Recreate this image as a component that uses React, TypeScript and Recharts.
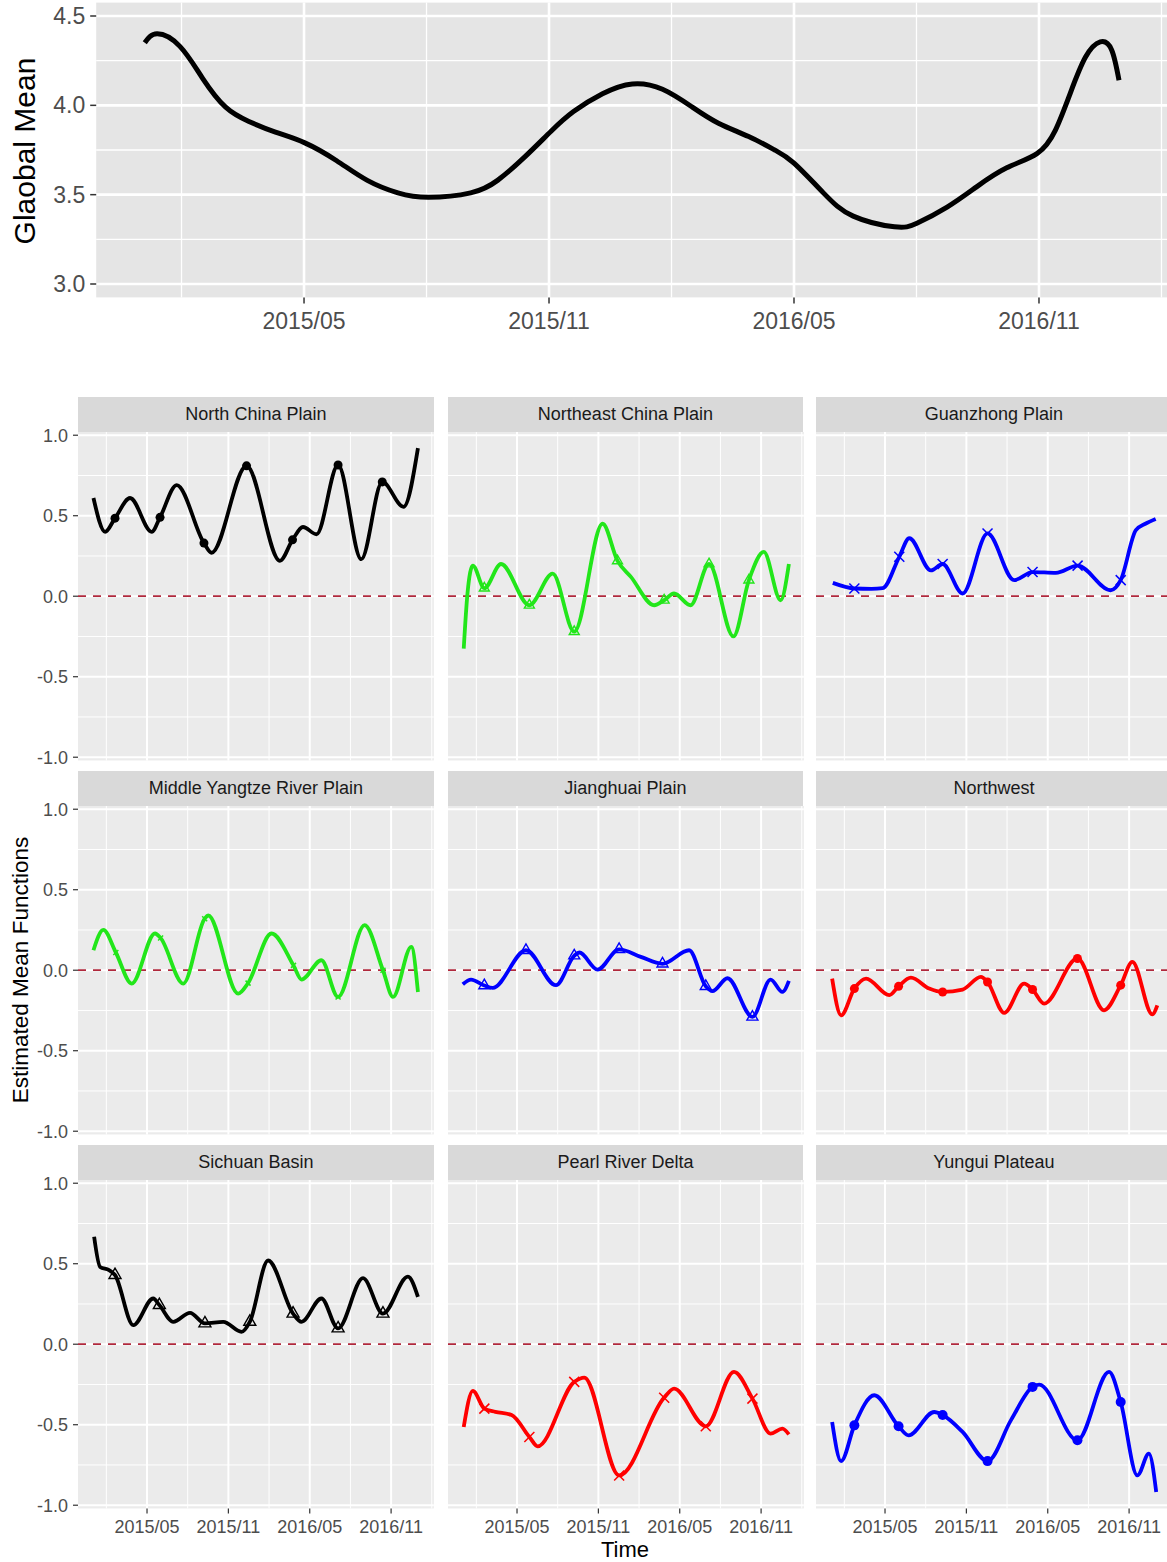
import React from 'react';
import { ComposedChart, Line, Scatter, XAxis, YAxis, CartesianGrid, ReferenceLine } from 'recharts';

const FONT = '"Liberation Sans", Arial, Helvetica, sans-serif';

// time axis: months since 2015-01-01
const monthTicks = [4, 10, 16, 22];
const monthTickLabels = ['2015/05', '2015/11', '2016/05', '2016/11'];
const monthMinor = [1, 7, 13, 19, 25];
const timeDomain: [number, number] = [-1.09, 25.15];

const globalTicks = [3.0, 3.5, 4.0, 4.5];
const globalMinor = [3.25, 3.75, 4.25];
const globalDomain: [number, number] = [2.925, 4.575];

const facetTicks = [-1, -0.5, 0, 0.5, 1];
const facetMinor = [-0.75, -0.25, 0.25, 0.75];
const facetDomain: [number, number] = [-1.02, 1.02];

// [month, value]
const globalMean = [
  [0.1, 4.35], [0.4, 4.4], [0.96, 4.33], [1.52, 4.15], [2.08, 3.99], [2.65, 3.91], [3.3, 3.85],
  [4.02, 3.79], [4.8, 3.69], [5.55, 3.58], [6.3, 3.51], [7.05, 3.485], [8.08, 3.51], [8.74, 3.58],
  [9.4, 3.71], [10.05, 3.855], [10.6, 3.965], [11.31, 4.065], [12.04, 4.12], [12.78, 4.09], [13.51, 3.99],
  [14.15, 3.9], [14.89, 3.825], [15.53, 3.75], [16.0, 3.676], [16.72, 3.51], [17.45, 3.38], [18.46, 3.32],
  [19.01, 3.34], [19.75, 3.43], [20.48, 3.545], [21.21, 3.65], [21.95, 3.73], [22.4, 3.86], [22.77, 4.07],
  [23.14, 4.27], [23.5, 4.355], [23.78, 4.31], [23.96, 4.14],
];

const northChinaPlain = [
  [0.05, 0.61], [0.91, 0.4], [2.75, 0.61], [4.35, 0.4], [6.19, 0.69], [8.76, 0.27], [11.34, 0.81],
  [13.8, 0.22], [15.5, 0.43], [16.5, 0.385], [18.09, 0.815], [19.8, 0.23], [22.92, 0.555], [23.98, 0.92],
];
const northChinaPlainMarks = [[1.64, 0.485], [4.96, 0.49], [8.2, 0.33], [11.34, 0.81], [14.73, 0.35], [18.09, 0.815], [21.35, 0.71]];

const northeastChinaPlain = [
  [0.07, -0.325], [0.35, 0.02], [0.74, 0.19], [2.82, 0.2], [4.91, -0.056], [6.63, 0.14], [8.22, -0.22],
  [10.31, 0.45], [12.4, 0.12], [14.11, -0.056], [15.58, 0.017], [16.8, -0.056], [19.96, -0.25],
  [22.2, 0.275], [23.44, -0.025], [24.05, 0.2],
];
const northeastChinaPlainMarks = [[1.59, 0.05], [4.91, -0.056], [8.22, -0.22], [11.41, 0.22], [14.85, -0.025], [18.16, 0.2], [21.1, 0.1]];

const guanzhongPlain = [
  [0.15, 0.083], [3.0, 0.045], [3.83, 0.05], [5.79, 0.36], [7.39, 0.16], [9.72, 0.017], [13.52, 0.1],
  [16.6, 0.145], [20.64, 0.037], [22.5, 0.41], [23.2, 0.45], [23.96, 0.48],
];
const guanzhongPlainMarks = [[1.74, 0.048], [5.05, 0.245], [8.25, 0.2], [11.56, 0.39], [14.88, 0.15], [18.2, 0.19], [21.38, 0.1]];

const middleYangtze = [
  [0.05, 0.124], [0.78, 0.25], [2.87, -0.083], [4.59, 0.228], [6.67, -0.083], [8.51, 0.34], [10.72, -0.145],
  [13.18, 0.228], [15.39, -0.058], [16.86, 0.062], [18.09, -0.166], [20.05, 0.28], [22.14, -0.166],
  [23.49, 0.145], [23.98, -0.135],
];
const middleYangtzeMarks = [[1.7, 0.11], [5.0, 0.2], [8.25, 0.32], [11.45, -0.08], [14.8, 0.03], [18.09, -0.166], [21.4, 0.0]];

const jianghuaiPlain = [
  [0.0, -0.087], [0.61, -0.058], [2.2, -0.11], [4.66, 0.124], [6.87, -0.093], [8.6, 0.11], [9.94, 0.004],
  [11.53, 0.13], [13.13, 0.083], [16.69, 0.124], [18.41, -0.13], [19.52, -0.05], [22.7, -0.058],
  [23.57, -0.135], [24.05, -0.066],
];
const jianghuaiPlainMarks = [[1.59, -0.095], [4.66, 0.124], [8.22, 0.09], [11.53, 0.13], [14.73, 0.04], [17.92, -0.1], [21.36, -0.29]];

const northwest = [
  [0.1, -0.052], [0.76, -0.28], [2.6, -0.052], [4.32, -0.155], [5.91, -0.046], [7.26, -0.114], [9.72, -0.12],
  [11.07, -0.041], [12.79, -0.265], [14.26, -0.083], [15.73, -0.207], [20.15, -0.249], [22.24, 0.052],
  [23.71, -0.274], [24.08, -0.218],
];
const northwestMarks = [[1.74, -0.114], [5.0, -0.1], [8.25, -0.135], [11.56, -0.073], [14.88, -0.12], [18.19, 0.073], [21.38, -0.093]];

const sichuanBasin = [
  [0.1, 0.667], [0.54, 0.48], [1.2, 0.46], [2.99, 0.118], [4.46, 0.284], [5.94, 0.139], [7.17, 0.195],
  [9.62, 0.139], [10.97, 0.077], [12.93, 0.52], [15.39, 0.139], [16.86, 0.284], [19.93, 0.41],
  [23.24, 0.42], [23.98, 0.294],
];
const sichuanBasinMarks = [[1.64, 0.43], [4.91, 0.243], [8.27, 0.129], [11.58, 0.139], [14.77, 0.19], [18.09, 0.098], [21.4, 0.19]];

const pearlRiverDelta = [
  [0.07, -0.514], [0.74, -0.29], [2.4, -0.42], [3.6, -0.44], [5.52, -0.634], [8.96, -0.207], [15.58, -0.276],
  [20.0, -0.172], [22.7, -0.555], [23.57, -0.524], [24.05, -0.56],
];
const pearlRiverDeltaMarks = [[1.59, -0.4], [4.91, -0.576], [8.22, -0.234], [11.53, -0.815], [14.85, -0.332], [17.92, -0.51], [21.36, -0.338]];

const yunguiPlateau = [
  [0.1, -0.483], [0.76, -0.726], [3.21, -0.317], [5.74, -0.566], [7.63, -0.421], [9.72, -0.545],
  [13.28, -0.473], [15.37, -0.251], [20.52, -0.172], [22.61, -0.815], [23.46, -0.68], [24.0, -0.918],
];
const yunguiPlateauMarks = [[1.74, -0.504], [5.0, -0.51], [8.25, -0.44], [11.56, -0.726], [14.88, -0.265], [18.19, -0.597], [21.38, -0.359]];

const panelTitles = [
  'North China Plain', 'Northeast China Plain', 'Guanzhong Plain',
  'Middle Yangtze River Plain', 'Jianghuai Plain', 'Northwest',
  'Sichuan Basin', 'Pearl River Delta', 'Yungui Plateau',
];
const panelCurves = [
  northChinaPlain, northeastChinaPlain, guanzhongPlain,
  middleYangtze, jianghuaiPlain, northwest,
  sichuanBasin, pearlRiverDelta, yunguiPlateau,
];
const panelMarks = [
  northChinaPlainMarks, northeastChinaPlainMarks, guanzhongPlainMarks,
  middleYangtzeMarks, jianghuaiPlainMarks, northwestMarks,
  sichuanBasinMarks, pearlRiverDeltaMarks, yunguiPlateauMarks,
];

// styles
const GREEN = '#22E61A';
const panelColors = ['#000000', GREEN, '#0000FF', GREEN, '#0000FF', '#FF0000', '#000000', '#FF0000', '#0000FF'];
const panelShapes = ['circle', 'triangle', 'x', 'x', 'triangle', 'circle', 'triangle', 'x', 'circle'];
const panelMarkSize = [9, 10, 10, 5, 11, 9, 12, 10, 10];

// layout
const TOP_PLOT = { left: 96.2, right: 1167.6, top: 2.6, bottom: 297.4 };
const COL_LEFT = [78, 447.5, 816];
const ROW_ZERO = [596, 970, 1344];
const PX_PER_MONTH = 13.56;
const PX_PER_UNIT = 161;
const PW = PX_PER_MONTH * (timeDomain[1] - timeDomain[0]);
const PH = PX_PER_UNIT * (facetDomain[1] - facetDomain[0]);
const STRIP_H = 34.5;
const PAD = 12;

const toRows = (pts: number[][]) => pts.map((p) => ({ t: p[0], v: p[1] }));
const mergeRows = (curve: number[][], marks: number[][]) => {
  const all = [...curve, ...marks].slice().sort((a, b) => a[0] - b[0]);
  const out: { t: number; v: number }[] = [];
  for (const p of all) {
    if (out.length && Math.abs(out[out.length - 1].t - p[0]) < 1e-9) continue;
    out.push({ t: p[0], v: p[1] });
  }
  return out;
};

const hGen = (vals: number[], dom: [number, number]) => (p: any) => {
  const s = p?.yAxis?.scale;
  if (typeof s === 'function') return vals.map((v) => s(v));
  const o = p.offset;
  return vals.map((v) => o.top + ((dom[1] - v) / (dom[1] - dom[0])) * o.height);
};
const vGen = (vals: number[], dom: [number, number]) => (p: any) => {
  const s = p?.xAxis?.scale;
  if (typeof s === 'function') return vals.map((v) => s(v));
  const o = p.offset;
  return vals.map((v) => o.left + ((v - dom[0]) / (dom[1] - dom[0])) * o.width);
};

const fmtMonth = (v: number) => {
  const i = monthTicks.indexOf(v);
  return i >= 0 ? monthTickLabels[i] : '';
};

const makeShape = (kind: string, color: string, size: number) => (props: any) => {
  const { cx, cy } = props;
  if (cx == null || cy == null || isNaN(cx) || isNaN(cy)) return <g />;
  if (kind === 'circle') return <circle cx={cx} cy={cy} r={size / 2} fill={color} />;
  if (kind === 'triangle') {
    const s = size;
    const h = (s * Math.sqrt(3)) / 2;
    const pts = `${cx},${cy - (2 * h) / 3} ${cx - s / 2},${cy + h / 3} ${cx + s / 2},${cy + h / 3}`;
    return <polygon points={pts} fill="none" stroke={color} strokeWidth={1.4} />;
  }
  const r = size / 2;
  return (
    <g stroke={color} strokeWidth={1.5}>
      <line x1={cx - r} y1={cy - r} x2={cx + r} y2={cy + r} />
      <line x1={cx - r} y1={cy + r} x2={cx + r} y2={cy - r} />
    </g>
  );
};

function TopChart() {
  const width = 1200;
  const xH = 45;
  const height = TOP_PLOT.bottom + xH + 2.6;
  return (
    <div style={{ position: 'absolute', left: 0, top: 0 }}>
      <ComposedChart
        width={width}
        height={height}
        margin={{ top: TOP_PLOT.top, right: width - TOP_PLOT.right, bottom: 2.6, left: 0 }}
      >
        <CartesianGrid
          fill="#E5E5E5"
          fillOpacity={1}
          stroke="#FFFFFF"
          strokeWidth={1.3}
          horizontalCoordinatesGenerator={hGen(globalMinor, globalDomain)}
          verticalCoordinatesGenerator={vGen(monthMinor, timeDomain)}
        />
        <CartesianGrid
          stroke="#FFFFFF"
          strokeWidth={2.6}
          horizontalCoordinatesGenerator={hGen(globalTicks, globalDomain)}
          verticalCoordinatesGenerator={vGen(monthTicks, timeDomain)}
        />
        <XAxis
          type="number"
          dataKey="t"
          domain={timeDomain}
          allowDataOverflow
          ticks={monthTicks}
          interval={0}
          tickFormatter={fmtMonth}
          height={xH}
          axisLine={false}
          tickSize={6}
          tickMargin={9}
          tickLine={{ stroke: '#333333', strokeWidth: 1.5 }}
          tick={{ fill: '#4D4D4D', fontSize: 23, fontFamily: FONT }}
        />
        <YAxis
          type="number"
          dataKey="v"
          domain={globalDomain}
          allowDataOverflow
          ticks={globalTicks}
          interval={0}
          tickFormatter={(v: number) => v.toFixed(1)}
          width={TOP_PLOT.left}
          axisLine={false}
          tickSize={6}
          tickMargin={5}
          tickLine={{ stroke: '#333333', strokeWidth: 1.5 }}
          tick={{ fill: '#4D4D4D', fontSize: 23, fontFamily: FONT }}
        />
        <Line
          data={toRows(globalMean)}
          dataKey="v"
          type="natural"
          stroke="#000000"
          strokeWidth={5}
          dot={false}
          activeDot={false}
          isAnimationActive={false}
        />
      </ComposedChart>
    </div>
  );
}

function Facet({ idx }: { idx: number }) {
  const col = idx % 3;
  const row = Math.floor(idx / 3);
  const left = COL_LEFT[col];
  const top = ROW_ZERO[row] - facetDomain[1] * PX_PER_UNIT;
  const showY = col === 0;
  const showX = row === 2;
  const axisW = showY ? left : 0;
  const xH = showX ? 50 : 0;
  const mb = showX ? 2 : PAD;
  const w = axisW + PW + 2;
  const h = PAD + PH + xH + mb;
  const color = panelColors[idx];
  const rows = mergeRows(panelCurves[idx], panelMarks[idx]);
  const marks = toRows(panelMarks[idx]);
  return (
    <>
      <div
        style={{
          position: 'absolute',
          left,
          top: top - STRIP_H,
          width: PW,
          height: STRIP_H,
          background: '#D9D9D9',
          color: '#1A1A1A',
          fontSize: 18,
          lineHeight: `${STRIP_H}px`,
          textAlign: 'center',
          fontFamily: FONT,
        }}
      >
        {panelTitles[idx]}
      </div>
      <div style={{ position: 'absolute', left: left - axisW, top: top - PAD }}>
        <ComposedChart width={w} height={h} margin={{ top: PAD, right: 2, bottom: mb, left: 0 }}>
          <CartesianGrid
            fill="#EBEBEB"
            fillOpacity={1}
            stroke="#FFFFFF"
            strokeWidth={1}
            horizontalCoordinatesGenerator={hGen(facetMinor, facetDomain)}
            verticalCoordinatesGenerator={vGen(monthMinor, timeDomain)}
          />
          <CartesianGrid
            stroke="#FFFFFF"
            strokeWidth={2}
            horizontalCoordinatesGenerator={hGen(facetTicks, facetDomain)}
            verticalCoordinatesGenerator={vGen(monthTicks, timeDomain)}
          />
          <XAxis
            type="number"
            dataKey="t"
            domain={timeDomain}
            allowDataOverflow
            ticks={monthTicks}
            interval={0}
            tickFormatter={fmtMonth}
            hide={!showX}
            height={xH}
            axisLine={false}
            tickSize={5}
            tickMargin={7}
            tickLine={{ stroke: '#333333', strokeWidth: 1.2 }}
            tick={{ fill: '#4D4D4D', fontSize: 18, fontFamily: FONT }}
          />
          <YAxis
            type="number"
            dataKey="v"
            domain={facetDomain}
            allowDataOverflow
            ticks={facetTicks}
            interval={0}
            tickFormatter={(v: number) => v.toFixed(1)}
            hide={!showY}
            width={axisW}
            axisLine={false}
            tickSize={5}
            tickMargin={5}
            tickLine={{ stroke: '#333333', strokeWidth: 1.2 }}
            tick={{ fill: '#4D4D4D', fontSize: 18, fontFamily: FONT }}
          />
          <ReferenceLine y={0} stroke="#B0283C" strokeWidth={1.8} strokeDasharray="8 7" ifOverflow="visible" />
          <Line
            data={rows}
            dataKey="v"
            type="monotone"
            stroke={color}
            strokeWidth={3.8}
            dot={false}
            activeDot={false}
            isAnimationActive={false}
          />
          <Scatter
            data={marks}
            dataKey="v"
            shape={makeShape(panelShapes[idx], color, panelMarkSize[idx])}
            isAnimationActive={false}
          />
        </ComposedChart>
      </div>
    </>
  );
}

export default function App() {
  return (
    <div
      style={{
        position: 'absolute',
        left: 0,
        top: 0,
        width: 1167,
        height: 1562,
        overflow: 'hidden',
        background: '#FFFFFF',
        fontFamily: FONT,
      }}
    >
      <TopChart />
      {panelTitles.map((_, i) => (
        <Facet key={i} idx={i} />
      ))}
      <svg
        width={1167}
        height={1562}
        style={{ position: 'absolute', left: 0, top: 0, pointerEvents: 'none' }}
      >
        <text
          x={24}
          y={151}
          transform="rotate(-90 24 151)"
          textAnchor="middle"
          dominantBaseline="central"
          fontSize={30}
          fontFamily={FONT}
          fill="#000000"
        >
          Glaobal Mean
        </text>
        <text
          x={20}
          y={970}
          transform="rotate(-90 20 970)"
          textAnchor="middle"
          dominantBaseline="central"
          fontSize={22.5}
          fontFamily={FONT}
          fill="#000000"
        >
          Estimated Mean Functions
        </text>
        <text
          x={625}
          y={1549}
          textAnchor="middle"
          dominantBaseline="central"
          fontSize={22}
          fontFamily={FONT}
          fill="#000000"
        >
          Time
        </text>
      </svg>
    </div>
  );
}
